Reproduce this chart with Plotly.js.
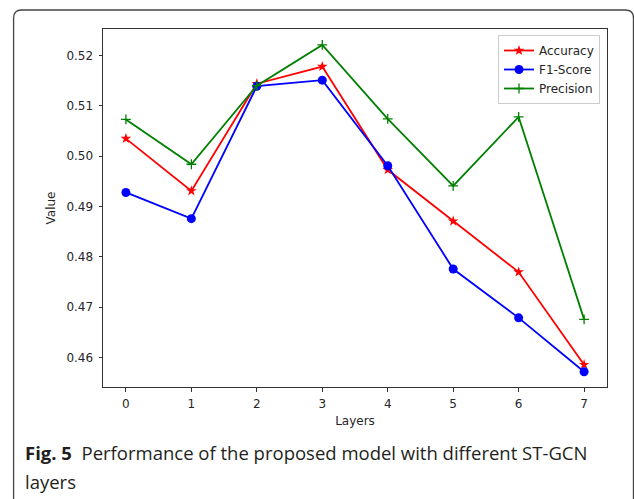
<!DOCTYPE html>
<html>
<head>
<meta charset="utf-8">
<script src="https://cdn.plot.ly/plotly-3.0.1.min.js"></script>
<style>
  html, body { margin: 0; padding: 0; background: #ffffff; }
  #chart { width: 634px; height: 499px; }
</style>
</head>
<body>
<div id="chart"></div>
<script>
// ---- data ----
const layers = [0, 1, 2, 3, 4, 5, 6, 7];
const accuracy  = [0.5035, 0.4931, 0.5144, 0.5178, 0.4973, 0.4871, 0.4770, 0.4586];
const f1Score   = [0.4928, 0.4876, 0.5139, 0.5151, 0.4981, 0.4776, 0.4679, 0.4572];
const precision = [0.5073, 0.4984, 0.5140, 0.5221, 0.5074, 0.4941, 0.5078, 0.4676];
const yTicks = [0.46, 0.47, 0.48, 0.49, 0.50, 0.51, 0.52];
const seriesNames = ['Accuracy', 'F1-Score', 'Precision'];
const captionBold = 'Fig. 5';
const captionLine1 = 'Performance of the proposed model with different ST-GCN';
const captionLine2 = 'layers';

// ---- layout geometry (pixels) ----
const W = 634, H = 499;
const plotL = 102.5, plotR = 607, plotT = 29, plotB = 386.7;
const pw = plotR - plotL, ph = plotB - plotT;
const px = x => (x - plotL) / pw;
const py = y => (plotB - y) / ph;

const font = 'DejaVu Sans, sans-serif';
const txt = '#262626';

const traces = [
  {
    x: layers, y: accuracy, name: seriesNames[0], type: 'scatter', mode: 'lines+markers',
    line: { color: '#ff0000', width: 1.8 },
    marker: { symbol: 'star', size: 8, color: '#ff0000' }
  },
  {
    x: layers, y: f1Score, name: seriesNames[1], type: 'scatter', mode: 'lines+markers',
    line: { color: '#0000ff', width: 1.8 },
    marker: { symbol: 'circle', size: 9, color: '#0000ff' }
  },
  {
    x: layers, y: precision, name: seriesNames[2], type: 'scatter', mode: 'lines+markers',
    line: { color: '#008000', width: 1.8 },
    marker: { symbol: 'cross-thin', size: 7, color: '#008000', line: { color: '#008000', width: 1.3 } }
  }
];

// rounded outer frame
const r = 8, fl = 13, ft = 10, fr = 633.5;
const framePath =
  `M ${px(fl)} ${py(H + 5)} L ${px(fl)} ${py(ft + r)} ` +
  `Q ${px(fl)} ${py(ft)} ${px(fl + r)} ${py(ft)} ` +
  `L ${px(fr - r)} ${py(ft)} Q ${px(fr)} ${py(ft)} ${px(fr)} ${py(ft + r)} ` +
  `L ${px(fr)} ${py(H + 5)}`;

const layout = {
  width: W, height: H,
  margin: { l: plotL, r: W - plotR, t: plotT, b: H - plotB, pad: 0 },
  paper_bgcolor: '#ffffff', plot_bgcolor: '#ffffff',
  font: { family: font, size: 12, color: txt },
  showlegend: true,
  xaxis: {
    range: [-0.35, 7.35], tickmode: 'array', tickvals: layers, ticktext: layers.map(String),
    showgrid: false, zeroline: false,
    showline: true, mirror: true, linecolor: '#333333', linewidth: 1,
    ticks: 'outside', ticklen: 3.5, tickwidth: 1, tickcolor: '#333333',
    ticklabelstandoff: 2,
    tickfont: { family: font, size: 12, color: txt },
    title: { text: 'Layers', font: { family: font, size: 12, color: txt }, standoff: 6 }
  },
  yaxis: {
    range: [0.45417, 0.52526], tickmode: 'array', tickvals: yTicks, ticktext: yTicks.map(v => v.toFixed(2)),
    showgrid: false, zeroline: false,
    showline: true, mirror: true, linecolor: '#333333', linewidth: 1,
    ticks: 'outside', ticklen: 3.5, tickwidth: 1, tickcolor: '#333333',
    ticklabelstandoff: 3,
    tickfont: { family: font, size: 12, color: txt },
    title: { text: 'Value', font: { family: font, size: 12, color: txt }, standoff: 8 }
  },
  legend: {
    x: px(600), y: py(35), xanchor: 'right', yanchor: 'top',
    bgcolor: 'rgba(255,255,255,0.8)', bordercolor: '#cccccc', borderwidth: 1,
    font: { family: font, size: 12, color: txt },
    tracegroupgap: 0, itemwidth: 30
  },
  shapes: [
    { type: 'path', xref: 'paper', yref: 'paper', path: framePath,
      line: { color: '#444444', width: 1.3 }, layer: 'above' }
  ],
  annotations: [
    { xref: 'paper', yref: 'paper', x: px(22), y: py(452), xanchor: 'left', yanchor: 'middle',
      showarrow: false, align: 'left',
      text: '<b>' + captionBold + '</b>  ' + captionLine1,
      font: { family: 'Open Sans, sans-serif', size: 18.5, color: '#231f20' } },
    { xref: 'paper', yref: 'paper', x: px(22), y: py(481), xanchor: 'left', yanchor: 'middle',
      showarrow: false, align: 'left',
      text: captionLine2,
      font: { family: 'Open Sans, sans-serif', size: 18.5, color: '#231f20' } }
  ]
};

Plotly.newPlot('chart', traces, layout, { displayModeBar: false, staticPlot: true });
</script>
</body>
</html>
